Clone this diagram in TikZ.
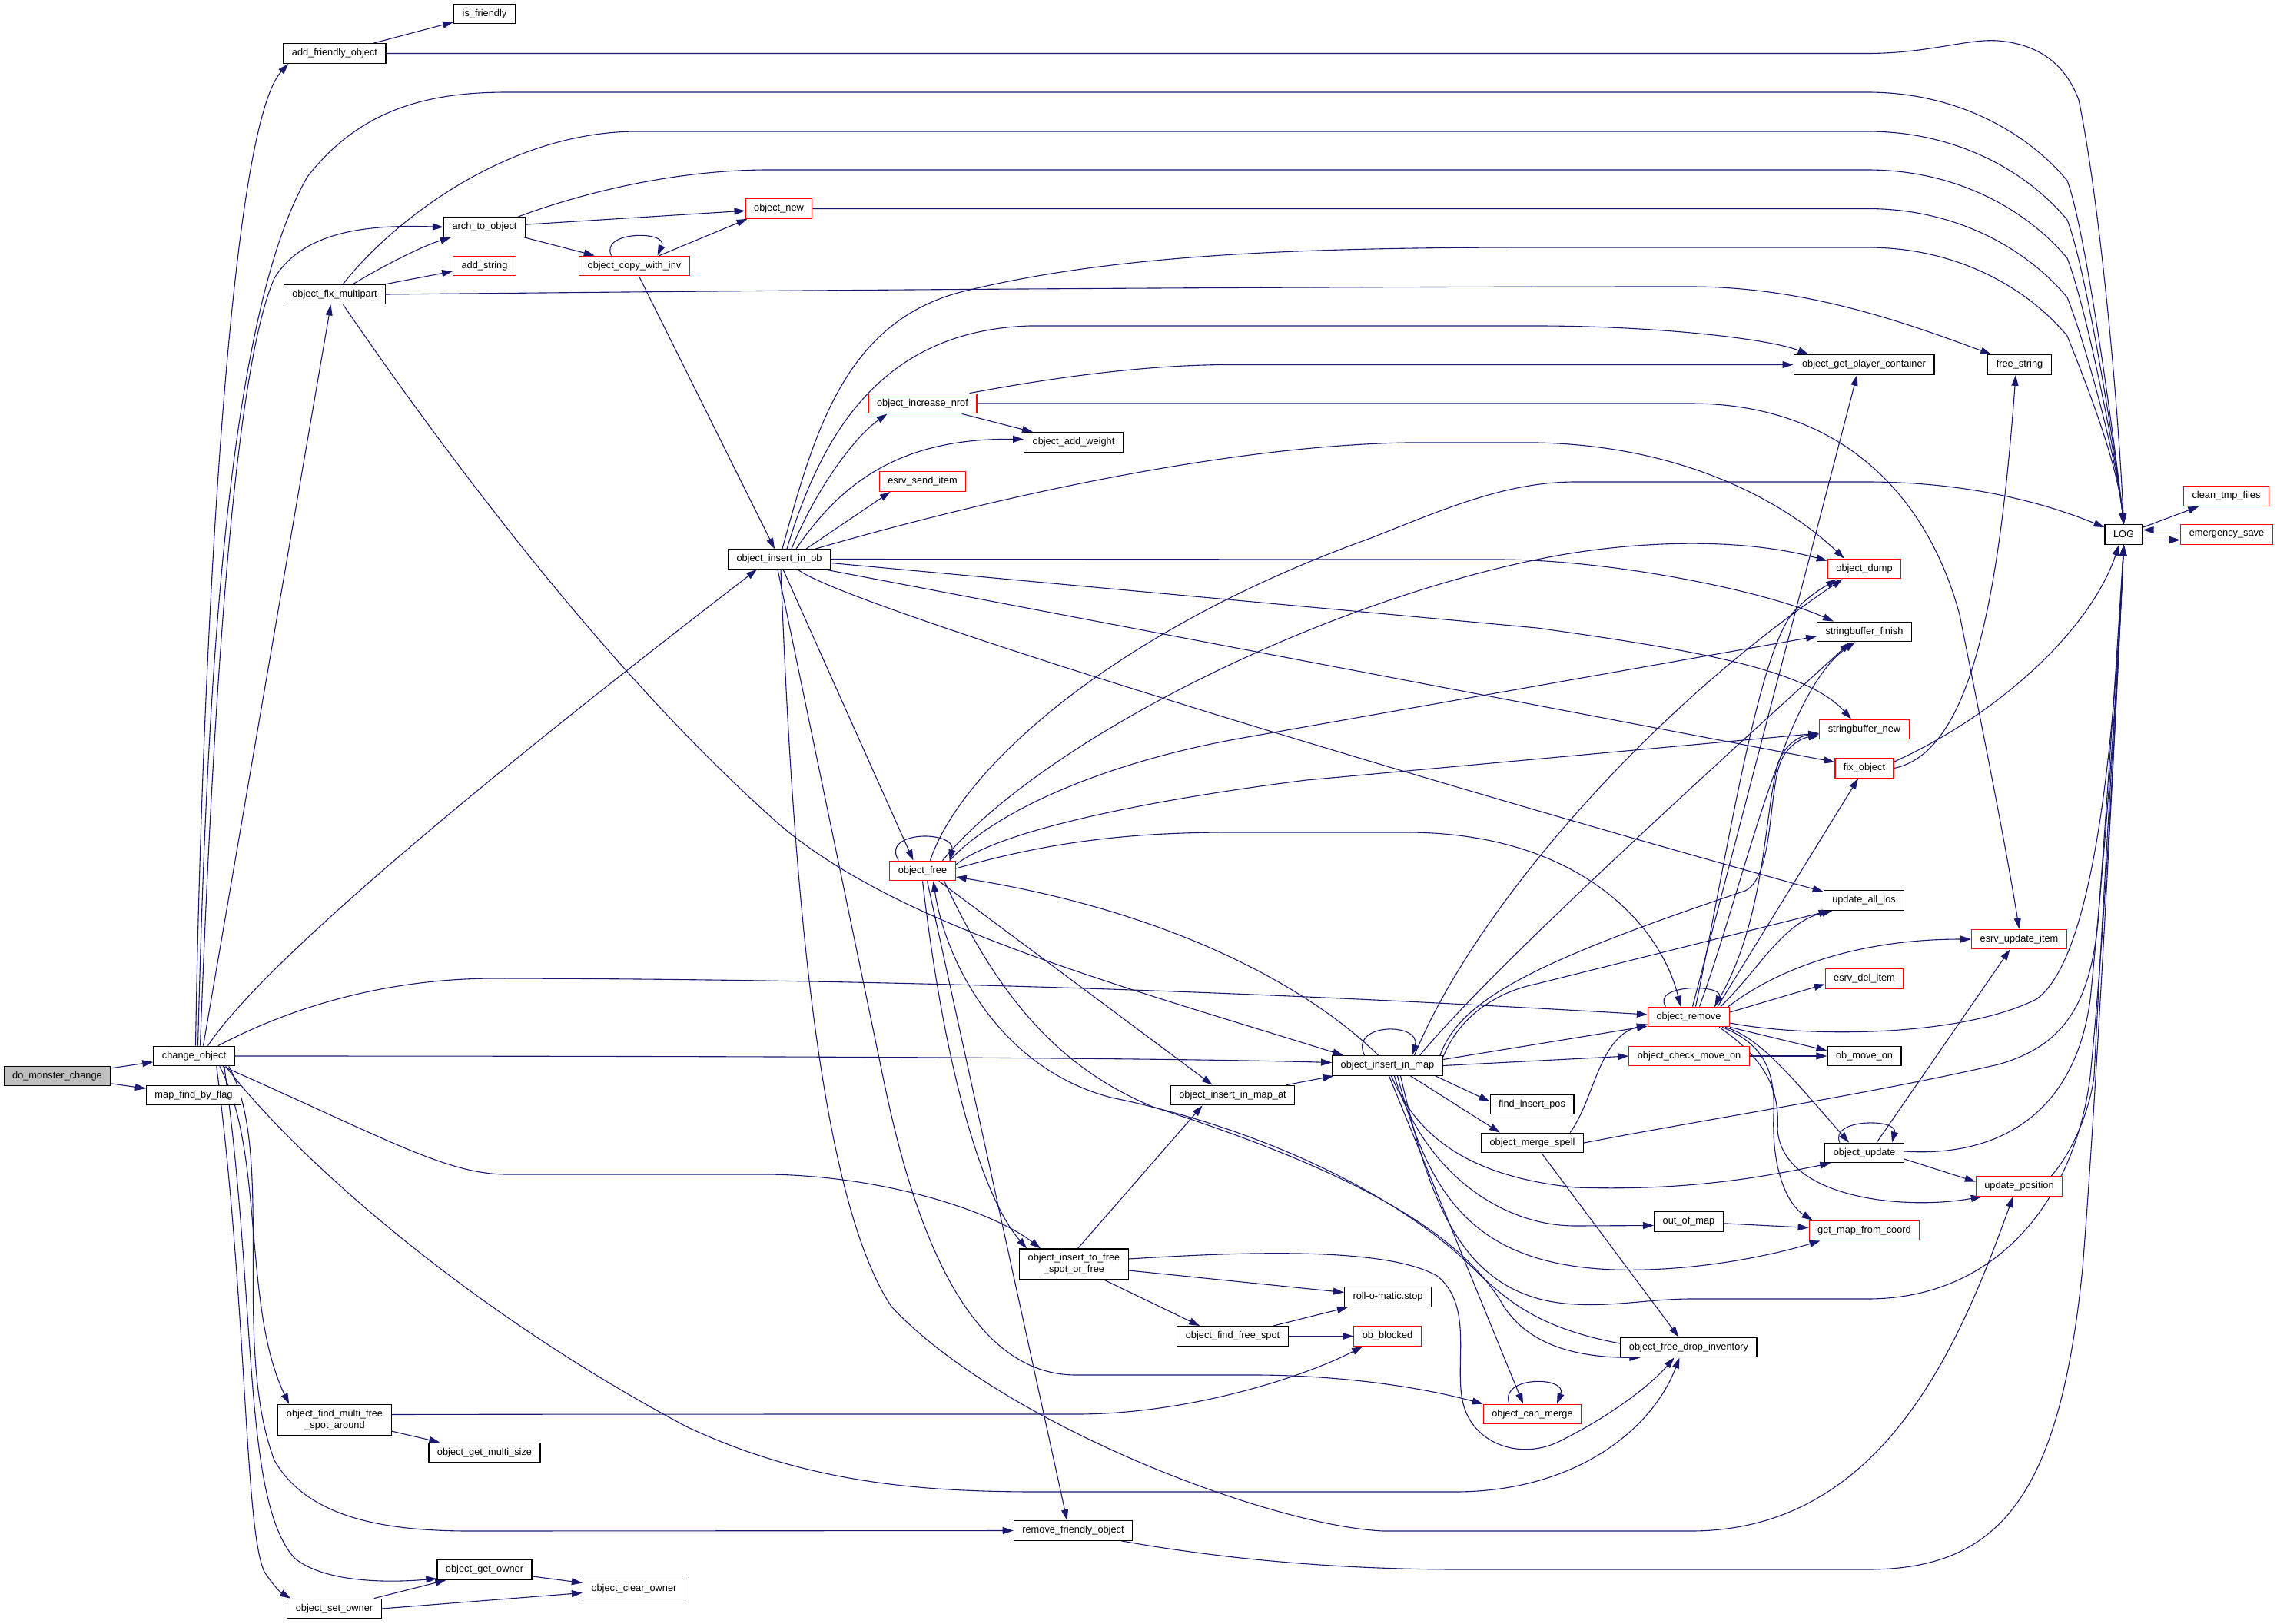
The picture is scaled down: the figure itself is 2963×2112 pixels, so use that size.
\documentclass[tikz,border=0pt]{standalone}
\usepackage{fontspec}
\setmainfont{Liberation Sans}
\usetikzlibrary{arrows.meta,calc}
\definecolor{edgeblue}{RGB}{25,25,112}
\definecolor{rootgray}{RGB}{191,191,191}
\newcommand\fnsize{\fontsize{12.8pt}{15.3pt}\selectfont}
\pgfdeclarelayer{bg}
\pgfsetlayers{bg,main}
\tikzset{
  fn/.style={draw=black, fill=white, line width=1.2pt, minimum height=25.6pt, inner xsep=11pt, inner ysep=0pt, font=\fnsize, text=black},
  fnred/.style={fn, draw=red},
  fnroot/.style={fn, fill=rootgray},
  fntwo/.style={fn, minimum height=40pt, align=center},
  ca/.style={draw=edgeblue, line width=1.1pt, -{Triangle[length=14pt,width=9pt]}},
}
\begin{document}
\begin{tikzpicture}[x=1pt,y=-1pt]
\useasboundingbox (0,0) rectangle (2963,2112);
% nodes
\node[fnroot] (dmc) at (74.5,1400) {do\_monster\_change};
\node[fn] (chg) at (252.5,1374) {change\_object};
\node[fn] (mfbf) at (252,1425) {map\_find\_by\_flag};
\node[fn] (afo) at (435.5,69.5) {add\_friendly\_object};
\node[fn] (ofm) at (435.5,383) {object\_fix\_multipart};
\node[fntwo] (fmfsa) at (435.5,1847.5) {object\_find\_multi\_free\\\_spot\_around};
\node[fn] (oso) at (435,2093) {object\_set\_owner};
\node[fn] (isf) at (630.5,18) {is\_friendly};
\node[fn] (ato) at (630.5,295.5) {arch\_to\_object};
\node[fnred] (ads) at (630.5,346) {add\_string};
\node[fn] (ogms) at (630.5,1890) {object\_get\_multi\_size};
\node[fn] (ogo) at (630.5,2042.5) {object\_get\_owner};
\node[fnred] (ocwi) at (825.5,346) {object\_copy\_with\_inv};
\node[fn] (oco) at (825,2067.5) {object\_clear\_owner};
\node[fnred] (onew) at (1013.5,271.5) {object\_new};
\node[fn] (oiio) at (1014,727.5) {object\_insert\_in\_ob};
\node[fnred] (oin) at (1200.5,525) {object\_increase\_nrof};
\node[fnred] (esi) at (1200.5,626.5) {esrv\_send\_item};
\node[fnred] (ofree) at (1200.5,1133) {object\_free};
\node[fn] (oaw) at (1397,575.5) {object\_add\_weight};
\node[fntwo] (oitf) at (1397.5,1645) {object\_insert\_to\_free\\\_spot\_or\_free};
\node[fn] (rfo) at (1396.5,1991.5) {remove\_friendly\_object};
\node[fn] (oiima) at (1604,1425) {object\_insert\_in\_map\_at};
\node[fn] (offs) at (1604,1738.5) {object\_find\_free\_spot};
\node[fn] (oiim) at (1805.5,1386.5) {object\_insert\_in\_map};
\node[fn] (rms) at (1806,1687.5) {roll-o-matic.stop};
\node[fnred] (obb) at (1805.5,1738.5) {ob\_blocked};
\node[fn] (fip) at (1993.5,1437) {find\_insert\_pos};
\node[fn] (oms) at (1994,1487) {object\_merge\_spell};
\node[fnred] (ocm) at (1994,1840) {object\_can\_merge};
\node[fnred] (orem) at (2197.5,1323) {object\_remove};
\node[fnred] (ocmo) at (2198,1374) {object\_check\_move\_on};
\node[fn] (oom) at (2197.5,1589.5) {out\_of\_map};
\node[fn] (ofdi) at (2197.5,1753) {object\_free\_drop\_inventory};
\node[fn] (ogpc) at (2425.5,474.5) {object\_get\_player\_container};
\node[fnred] (odump) at (2426,740) {object\_dump};
\node[fn] (sbf) at (2426,822) {stringbuffer\_finish};
\node[fnred] (sbn) at (2426,949) {stringbuffer\_new};
\node[fnred] (fixo) at (2426,999.5) {fix\_object};
\node[fn] (ual) at (2425.5,1171.5) {update\_all\_los};
\node[fnred] (edi) at (2426,1273.5) {esrv\_del\_item};
\node[fn] (omo) at (2426,1374) {ob\_move\_on};
\node[fn] (oup) at (2426,1500) {object\_update};
\node[fnred] (gmfc) at (2426,1601) {get\_map\_from\_coord};
\node[fn] (fs) at (2628,474.5) {free\_string};
\node[fnred] (eui) at (2627.5,1222) {esrv\_update\_item};
\node[fnred] (upos) at (2627.5,1543.5) {update\_position};
\node[fn] (log) at (2763.5,695.5) {LOG};
\node[fnred] (ctf) at (2897,645.5) {clean\_tmp\_files};
\node[fnred] (esave) at (2897.5,695.5) {emergency\_save};

\begin{pgfonlayer}{bg}
\fill[white] (0,0) rectangle (2963,2112);
% do_monster_change
\draw[ca] (dmc) -- (chg);
\draw[ca] (dmc) -- (mfbf);
% change_object
\draw[ca] ([xshift=2pt]chg.north) .. controls (262,900) and (295,170) .. ($(afo.south west)+(7,0)$);
\draw[ca] ([xshift=5pt]chg.north) .. controls (268,950) and (290,420) .. (400,230) .. controls (470,140) and (560,120) .. (660,120) -- (2430,120) .. controls (2550,120) and (2640,175) .. (2690,235) .. controls (2715,300) and (2755,600) .. (log.north);
\draw[ca] ([xshift=8pt]chg.north) .. controls (278,900) and (305,480) .. (357,362) .. controls (395,300) and (480,292) .. (ato.west);
\draw[ca] ([xshift=12pt]chg.north) -- ([xshift=-5pt]ofm.south);
\draw[ca] ([xshift=18pt]chg.north) .. controls (350,1240) and (700,960) .. ([xshift=-29pt]oiio.south);
\draw[ca] ($(chg.north east)+(-22,0)$) .. controls (380,1310) and (500,1274) .. (640,1273) .. controls (1300,1274) and (1800,1300) .. ($(orem.west)+(0,-3)$);
\draw[ca] (chg.east) .. controls (1000,1374) and (1500,1376) .. ($(oiim.west)+(0,-4)$);
\draw[ca] ($(chg.south east)+(-16,0)$) .. controls (500,1480) and (580,1528) .. (660,1528) -- (1000,1528) .. controls (1150,1530) and (1290,1575) .. ($(oitf.north west)+(28,0)$);
\draw[ca] ($(chg.south east)+(-12,0)$) .. controls (380,1500) and (600,1700) .. (893,1856) .. controls (1050,1930) and (1200,1941) .. (1351,1941) -- (1893,1941) .. controls (2050,1941) and (2150,1860) .. ($(ofdi.south)+(-12,0)$);
\draw[ca] ($(chg.south east)+(-20,0)$) .. controls (345,1500) and (315,1700) .. ($(fmfsa.north west)+(15,0)$);
\draw[ca] ($(chg.south east)+(-8,0)$) .. controls (360,1500) and (300,1750) .. (357,1900) .. controls (400,1975) and (500,1992) .. (612,1992) -- (rfo.west);
\draw[ca] ($(chg.south east)+(-14,0)$) .. controls (335,1700) and (315,1950) .. (383,2027) .. controls (420,2058) and (500,2060) .. ($(ogo.south west)+(0,-2)$);
\draw[ca] ($(chg.south east)+(-24,0)$) .. controls (322,1700) and (318,1990) .. (344,2045) .. controls (355,2062) and (365,2072) .. ($(oso.north west)+(5,0)$);
% add_friendly_object
\draw[ca] (afo) -- (isf);
\draw[ca] (afo.east) -- (2430,69.5) .. controls (2510,69.5) and (2560,50) .. (2600,53) .. controls (2660,58) and (2690,90) .. (2705,130) .. controls (2730,250) and (2755,500) .. (log.north);
% object_fix_multipart
\draw[ca] ([xshift=11pt]ofm.north) .. controls (500,300) and (650,171) .. (830,171) -- (2430,171) .. controls (2550,171) and (2640,226) .. (2690,286) .. controls (2715,350) and (2755,600) .. (log.north);
\draw[ca] ([xshift=24pt]ofm.north) .. controls (500,345) and (550,320) .. ($(ato.south west)+(10,0)$);
\draw[ca] (ofm.north east) -- ($(ads.west)+(0,7)$);
\draw[ca] (ofm.east) .. controls (800,380) and (1500,373) .. (2200,373) .. controls (2350,373) and (2480,420) .. ($(fs.north west)+(5,0)$);
\draw[ca] ([xshift=11pt]ofm.south) .. controls (600,620) and (800,880) .. (1000,1060) .. controls (1150,1200) and (1450,1280) .. ($(oiim.north west)+(15,0)$);
% arch_to_object
\draw[ca] (ato) -- (onew);
\draw[ca] (ato) -- (ocwi);
\draw[ca] ($(ato.north east)+(-10,0)$) .. controls (760,250) and (880,221) .. (1000,221) -- (2430,221) .. controls (2550,221) and (2640,276) .. (2690,336) .. controls (2715,400) and (2755,600) .. (log.north);
% object_copy_with_inv
\draw[ca] ($(ocwi.north)+(-30,0)$) .. controls (780,300) and (870,300) .. ($(ocwi.north)+(30,0)$);
\draw[ca] ($(ocwi.north east)+(-40,0)$) -- ($(onew.south west)+(3,0)$);
\draw[ca] ($(ocwi.south)+(6,0)$) -- ($(oiio.north)+(-6,0)$);
% object_new
\draw[ca] (onew.east) -- (2430,271.5) .. controls (2550,271.5) and (2640,327) .. (2690,387) .. controls (2715,450) and (2755,600) .. (log.north);
% object_insert_in_ob
\draw[ca] ($(oiio.north)+(4,0)$) .. controls (1060,560) and (1100,420) .. (1250,380) .. controls (1450,330) and (1700,322) .. (2000,322) -- (2430,322) .. controls (2550,322) and (2640,377) .. (2690,437) .. controls (2715,500) and (2755,600) .. (log.north);
\draw[ca] ($(oiio.north)+(10,0)$) .. controls (1070,560) and (1150,430) .. (1340,424) -- (2000,424) .. controls (2150,424) and (2300,440) .. ($(ogpc.north west)+(20,0)$);
\draw[ca] ($(oiio.north)+(16,0)$) .. controls (1060,640) and (1110,570) .. ($(oin.south west)+(25,0)$);
\draw[ca] ($(oiio.north)+(22,0)$) .. controls (1100,620) and (1180,570) .. ($(oaw.west)+(0,-4)$);
\draw[ca] ($(oiio.north)+(35,0)$) -- ($(esi.south west)+(15,0)$);
\draw[ca] ($(oiio.north east)+(-20,0)$) .. controls (1300,645) and (1600,580) .. (1830,576) -- (2000,576) .. controls (2200,580) and (2330,660) .. ($(odump.north west)+(22,0)$);
\draw[ca] (oiio.east) -- (1950,728) .. controls (2100,728) and (2300,770) .. ($(sbf.north west)+(22,0)$);
\draw[ca] ($(oiio.east)+(0,5)$) -- (2000,817) .. controls (2200,845) and (2350,870) .. ($(sbn.north)+(-17,0)$);
\draw[ca] ($(oiio.south east)+(-8,0)$) -- ($(fixo.west)+(0,-8)$);
\draw[ca] ($(oiio.south)+(24,0)$) .. controls (1100,790) and (1900,1030) .. ($(ual.north west)+(0,2)$);
\draw[ca] ($(oiio.south)+(5,0)$) -- ($(ofree.north)+(-12,0)$);
\draw[ca] ($(oiio.south)+(2,0)$) .. controls (1030,1100) and (1060,1550) .. (1160,1700) .. controls (1300,1850) and (1650,1985) .. (1800,1992) -- (2200,1992) .. controls (2450,1992) and (2550,1750) .. ($(upos.south)+(-8,0)$);
\draw[ca] ($(oiio.south)+(-2,0)$) -- (1150,1406) .. controls (1200,1650) and (1280,1789) .. (1400,1789) -- (1640,1789) .. controls (1750,1790) and (1850,1805) .. (ocm.north west);
% object_increase_nrof
\draw[ca] ($(oin.north east)+(-10,0)$) .. controls (1350,495) and (1480,474.5) .. (1600,474.5) -- (ogpc.west);
\draw[ca] (oin.east) -- (2200,525) .. controls (2400,525) and (2510,650) .. (2550,800) .. controls (2580,950) and (2610,1100) .. (eui.north);
\draw[ca] ($(oin.south east)+(-20,0)$) -- ($(oaw.north west)+(12,0)$);
% object_free
\draw[ca] ($(ofree.north west)+(12,0)$) .. controls (1145,1080) and (1245,1080) .. ($(ofree.north east)+(-8,0)$);
\draw[ca] ($(ofree.north)+(10,0)$) .. controls (1250,1000) and (1450,820) .. (1784,700) .. controls (1880,662) and (1960,627) .. (2050,627) -- (2430,627) .. controls (2550,627) and (2650,650) .. ($(log.north west)+(0,4)$);
\draw[ca] ($(ofree.north)+(26,0)$) .. controls (1350,970) and (1700,790) .. (2000,728) .. controls (2100,707) and (2250,695) .. ($(odump.north west)+(0,3)$);
\draw[ca] ($(ofree.north east)+(-8,0)$) .. controls (1300,1050) and (1450,990) .. (1612,961) -- ($(sbf.west)+(0,6)$);
\draw[ca] ($(ofree.east)+(0,-8)$) .. controls (1300,1080) and (1500,1040) .. (1700,1015) -- ($(sbn.west)+(0,5)$);
\draw[ca] ($(ofree.east)+(0,-3)$) .. controls (1350,1100) and (1450,1083) .. (1600,1083) -- (1830,1083) .. controls (2050,1083) and (2160,1200) .. ($(orem.north west)+(43,0)$);
\draw[ca] ($(ofree.south)+(0,0)$) .. controls (1230,1400) and (1280,1560) .. ($(oitf.north west)+(10,0)$);
\draw[ca] ($(ofree.south)+(6,0)$) -- ($(rfo.north)+(-8,0)$);
\draw[ca] ($(ofree.south east)+(-22,0)$) -- ($(oiima.north west)+(55,0)$);
\draw[ca] ($(ofree.south east)+(-15,0)$) .. controls (1300,1300) and (1380,1390) .. (1500,1440) .. controls (1750,1520) and (1900,1600) .. (1957,1700) .. controls (1990,1750) and (2050,1766) .. ($(ofdi.south west)+(26,0)$);
% object_free_drop_inventory
\draw[ca] ($(ofdi.west)+(0,-5)$) .. controls (2000,1728) and (1960,1690) .. (1925,1658) .. controls (1830,1560) and (1650,1470) .. (1446,1428) .. controls (1300,1390) and (1230,1250) .. ($(ofree.south)+(14,0)$);
% object_insert_to_free_spot_or_free
\draw[ca] ($(oitf.north)+(5,0)$) -- ($(oiima.south west)+(42,0)$);
\draw[ca] ($(oitf.east)+(0,8)$) -- ($(rms.west)+(0,-6)$);
\draw[ca] ($(oitf.south)+(40,0)$) -- ($(offs.north west)+(30,0)$);
\draw[ca] ($(oitf.east)+(0,-7)$) .. controls (1600,1630) and (1800,1620) .. (1870,1660) .. controls (1920,1700) and (1890,1780) .. (1905,1830) .. controls (1920,1880) and (1980,1900) .. (2030,1875) .. controls (2100,1840) and (2150,1800) .. ($(ofdi.south)+(-19,0)$);
% object_find_free_spot
\draw[ca] ($(offs.north east)+(-20,0)$) -- ($(rms.south west)+(5,0)$);
\draw[ca] (offs) -- (obb);
% object_insert_in_map_at
\draw[ca] (oiima) -- (oiim);
% object_insert_in_map
\draw[ca] ($(oiim.north)+(-30,0)$) .. controls (1755,1330) and (1850,1330) .. ($(oiim.north)+(32,0)$);
\draw[ca] ($(oiim.north)+(-12,0)$) .. controls (1720,1300) and (1550,1190) .. ($(ofree.east)+(0,8)$);
\draw[ca] ($(oiim.north)+(35,0)$) .. controls (1920,1180) and (2150,920) .. ($(odump.south west)+(20,0)$);
\draw[ca] ($(oiim.north)+(42,0)$) .. controls (1950,1250) and (2250,980) .. ($(sbf.south)+(-18,0)$);
\draw[ca] ($(oiim.north east)+(-4,0)$) .. controls (1900,1300) and (2000,1250) .. (2271,1159) .. controls (2310,1140) and (2300,1020) .. (2320,985) .. controls (2330,968) and (2345,960) .. ($(sbn.west)+(0,8)$);
\draw[ca] ($(oiim.north east)+(0,2)$) .. controls (1900,1320) and (1950,1290) .. (2000,1280) -- ($(ual.south west)+(8,0)$);
\draw[ca] ($(oiim.east)+(0,-8)$) -- ($(orem.west)+(0,12)$);
\draw[ca] (oiim.east) -- (ocmo.west);
\draw[ca] ($(oiim.south east)+(-10,0)$) -- ($(fip.west)+(0,-4)$);
\draw[ca] ($(oiim.south)+(30,0)$) -- ($(oms.north west)+(25,0)$);
\draw[ca] ($(oiim.south)+(5,0)$) .. controls (1840,1470) and (1900,1530) .. (2050,1545) .. controls (2200,1550) and (2300,1530) .. ($(oup.south west)+(8,0)$);
\draw[ca] ($(oiim.south)+(9,0)$) .. controls (1850,1520) and (1950,1595) .. (2050,1595) -- ($(oom.west)+(0,5)$);
\draw[ca] ($(oiim.south)+(13,0)$) .. controls (1860,1560) and (1920,1645) .. (2100,1652) .. controls (2200,1655) and (2300,1635) .. ($(gmfc.south west)+(15,0)$);
\draw[ca] ($(oiim.south)+(17,0)$) .. controls (1860,1560) and (1900,1690) .. (2050,1697) .. controls (2100,1700) and (2150,1690) .. (2200,1690) -- (2430,1690) .. controls (2600,1690) and (2700,1560) .. (2720,1400) .. controls (2740,1200) and (2755,900) .. (log.south);
\draw[ca] ($(oiim.south)+(2,0)$) -- ($(ocm.north)+(-12,0)$);
% object_merge_spell
\draw[ca] ($(oms.north east)+(-18,0)$) .. controls (2075,1430) and (2080,1350) .. ($(orem.south west)+(0,-4)$);
\draw[ca] ($(oms.south)+(12,0)$) -- ($(ofdi.north)+(-13,0)$);
\draw[ca] (oms.east) .. controls (2200,1460) and (2450,1420) .. (2600,1385) .. controls (2690,1360) and (2720,1300) .. (2730,1200) .. controls (2745,1000) and (2758,800) .. (log.south);
% object_can_merge
\draw[ca] ($(ocm.north)+(-30,0)$) .. controls (1950,1790) and (2040,1790) .. ($(ocm.north)+(32,0)$);
% object_remove
\draw[ca] ($(orem.north)+(-30,0)$) .. controls (2148,1280) and (2245,1280) .. ($(orem.north)+(34,0)$);
\draw[ca] ($(orem.north)+(5,0)$) -- ($(ogpc.south)+(-9,0)$);
\draw[ca] ($(orem.north)+(9,0)$) .. controls (2250,1100) and (2290,830) .. (2340,790) .. controls (2360,770) and (2380,760) .. ($(odump.south west)+(12,0)$);
\draw[ca] ($(orem.north)+(14,0)$) .. controls (2270,1150) and (2320,900) .. ($(sbf.south)+(-12,0)$);
\draw[ca] ($(orem.north east)+(-20,0)$) .. controls (2300,1200) and (2295,1050) .. (2315,990) .. controls (2325,965) and (2345,957) .. ($(sbn.west)+(0,6)$);
\draw[ca] ($(orem.north east)+(-16,0)$) -- ($(fixo.south)+(-8,0)$);
\draw[ca] ($(orem.north east)+(-12,0)$) .. controls (2290,1260) and (2320,1200) .. ($(ual.south west)+(12,0)$);
\draw[ca] ($(orem.north east)+(-2,0)$) .. controls (2300,1270) and (2400,1222) .. (eui.west);
\draw[ca] ($(orem.east)+(0,-6)$) -- ($(edi.west)+(0,7)$);
\draw[ca] (orem.south east) -- ($(omo.west)+(0,-7)$);
\draw[ca] ($(orem.east)+(0,8)$) .. controls (2350,1350) and (2550,1350) .. (2650,1300) .. controls (2720,1250) and (2750,1000) .. (log.south);
\draw[ca] ($(orem.south east)+(-6,0)$) .. controls (2290,1350) and (2330,1400) .. ($(oup.north)+(-20,0)$);
\draw[ca] ($(orem.south east)+(-10,0)$) .. controls (2300,1360) and (2310,1400) .. (2308,1450) .. controls (2305,1530) and (2330,1570) .. ($(gmfc.north west)+(5,0)$);
\draw[ca] ($(orem.south east)+(-14,0)$) .. controls (2300,1380) and (2316,1420) .. (2313,1470) .. controls (2320,1560) and (2480,1575) .. ($(upos.south west)+(8,0)$);
% object_check_move_on, out_of_map
\draw[ca] (ocmo) -- (omo);
\draw[ca] (oom) -- (gmfc);
% object_update
\draw[ca] ($(oup.north)+(-32,0)$) .. controls (2380,1455) and (2470,1455) .. ($(oup.north)+(36,0)$);
\draw[ca] ($(oup.north)+(16,0)$) -- ($(eui.south)+(-12,0)$);
\draw[ca] ($(oup.east)+(0,8)$) -- ($(upos.west)+(0,-6)$);
\draw[ca] ($(oup.east)+(0,-2)$) .. controls (2600,1506) and (2700,1450) .. (2720,1300) .. controls (2740,1100) and (2755,900) .. (log.south);
% update_position
\draw[ca] ($(upos.north east)+(-15,0)$) .. controls (2700,1495) and (2720,1440) .. (2725,1400) .. controls (2740,1100) and (2755,900) .. (log.south);
% fix_object
\draw[ca] (fixo.east) .. controls (2560,980) and (2600,800) .. ($(fs.south)+(-5,0)$);
\draw[ca] ($(fixo.north east)+(0,5)$) .. controls (2600,930) and (2720,820) .. ($(log.south)+(-6,0)$);
% remove_friendly_object
\draw[ca] ($(rfo.south east)+(-15,0)$) .. controls (1600,2030) and (1750,2042) .. (1900,2042) -- (2430,2042) .. controls (2600,2042) and (2680,1950) .. (2710,1650) .. controls (2730,1400) and (2755,900) .. (log.south);
% object_find_multi_free_spot_around
\draw[ca] ($(fmfsa.east)+(0,-7)$) .. controls (700,1840) and (1000,1840) .. (1400,1840) .. controls (1550,1840) and (1700,1790) .. ($(obb.south west)+(12,0)$);
\draw[ca] ($(fmfsa.south east)+(0,-6)$) -- ($(ogms.north west)+(15,0)$);
% owners
\draw[ca] ($(oso.north east)+(-10,0)$) -- ($(ogo.south west)+(12,0)$);
\draw[ca] (oso.east) -- ($(oco.west)+(0,5)$);
\draw[ca] ($(ogo.south east)+(0,-5)$) -- ($(oco.west)+(0,-8)$);
% LOG
\draw[ca] (log) -- (ctf);
\draw[ca] ($(log.east)+(0,7)$) -- ($(esave.west)+(0,7)$);
\draw[ca] ($(esave.west)+(0,-6)$) -- ($(log.east)+(0,-6)$);
\end{pgfonlayer}
\end{tikzpicture}
\end{document}
